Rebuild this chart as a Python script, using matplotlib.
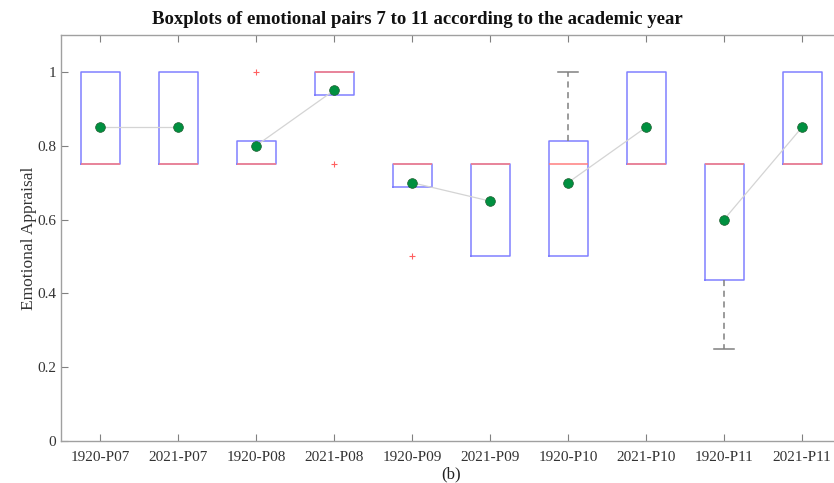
import matplotlib
matplotlib.use('Agg')
import matplotlib.pyplot as plt

plt.rcParams['font.family'] = ['Liberation Serif', 'DejaVu Serif']

# boxplot data
labels = ['1920-P07', '2021-P07', '1920-P08', '2021-P08', '1920-P09',
          '2021-P09', '1920-P10', '2021-P10', '1920-P11', '2021-P11']
q1 = [0.75, 0.75, 0.75, 0.9375, 0.6875, 0.5, 0.5, 0.75, 0.4375, 0.75]
q3 = [1.0, 1.0, 0.8125, 1.0, 0.75, 0.75, 0.8125, 1.0, 0.75, 1.0]
medians = [0.75, 0.75, 0.75, 1.0, 0.75, 0.75, 0.75, 0.75, 0.75, 0.75]
whislo = [0.75, 0.75, 0.75, 0.9375, 0.6875, 0.5, 0.5, 0.75, 0.25, 0.75]
whishi = [1.0, 1.0, 0.8125, 1.0, 0.75, 0.75, 1.0, 1.0, 0.75, 1.0]
outliers = [[], [], [1.0], [0.75], [0.5], [], [], [], [], []]
means = [0.85, 0.85, 0.8, 0.95, 0.7, 0.65, 0.7, 0.85, 0.6, 0.85]

fig = plt.figure(figsize=(8.34, 4.83), dpi=100)
ax = fig.add_axes([61/834, 42/483, 780/834, 406/483])

stats = []
for i in range(len(labels)):
    stats.append(dict(label=labels[i], q1=q1[i], q3=q3[i], med=medians[i],
                      whislo=whislo[i], whishi=whishi[i], fliers=outliers[i]))

pos = list(range(1, len(labels) + 1))
bp = ax.bxp(stats, positions=pos, widths=0.5, showcaps=True,
            boxprops=dict(color='#8080ff', lw=1.1),
            medianprops=dict(color='#ff7f7f', lw=1.1),
            whiskerprops=dict(color='#808080', lw=1.1, ls=(0, (4, 3))),
            capprops=dict(color='#808080', lw=1.1),
            flierprops=dict(marker='+', markeredgecolor='#ff6060', markersize=4, mew=0.8))

# only keep caps where the whisker sticks out of the box
for i in range(len(labels)):
    bp['caps'][2*i].set_visible(whislo[i] < q1[i])
    bp['caps'][2*i+1].set_visible(whishi[i] > q3[i])
    bp['whiskers'][2*i].set_visible(whislo[i] < q1[i])
    bp['whiskers'][2*i+1].set_visible(whishi[i] > q3[i])

# mean lines between year pairs
for k in range(0, len(labels), 2):
    ax.plot(pos[k:k+2], means[k:k+2], color='#d4d4d4', lw=0.9, zorder=3)
ax.plot(pos, means, 'o', ls='none', color='#009040', mec='#1f5f30', mew=0.5,
        ms=7, zorder=4)

ax.set_xlim(0.5, 10.5)
ax.set_ylim(0, 1.1)
ax.set_yticks([0, 0.2, 0.4, 0.6, 0.8, 1])
ax.set_yticklabels(['0', '0.2', '0.4', '0.6', '0.8', '1'])
ax.set_xticks(pos)
ax.set_xticklabels(labels)
ax.tick_params(direction='in', top=True, right=True, length=5, color='#808080',
               labelcolor='#333333', labelsize=11, width=0.8)
ax.tick_params(axis='x', pad=7)
for s in ax.spines.values():
    s.set_color('#a0a0a0')
    s.set_linewidth(1.0)

ax.set_ylabel('Emotional Appraisal', fontsize=12.5, color='#333333')
ax.yaxis.set_label_coords(-0.031, 0.5)
ax.set_xlabel('(b)', fontsize=12, color='#222222', labelpad=2)
# title is centred on the figure, not on the (cut-off) axes
fig.text(0.5, 0.96, 'Boxplots of emotional pairs 7 to 11 according to the academic year',
         ha='center', va='center', fontsize=13.5, fontweight='bold', color='#111111')

fig.savefig('out.png', dpi=100)
